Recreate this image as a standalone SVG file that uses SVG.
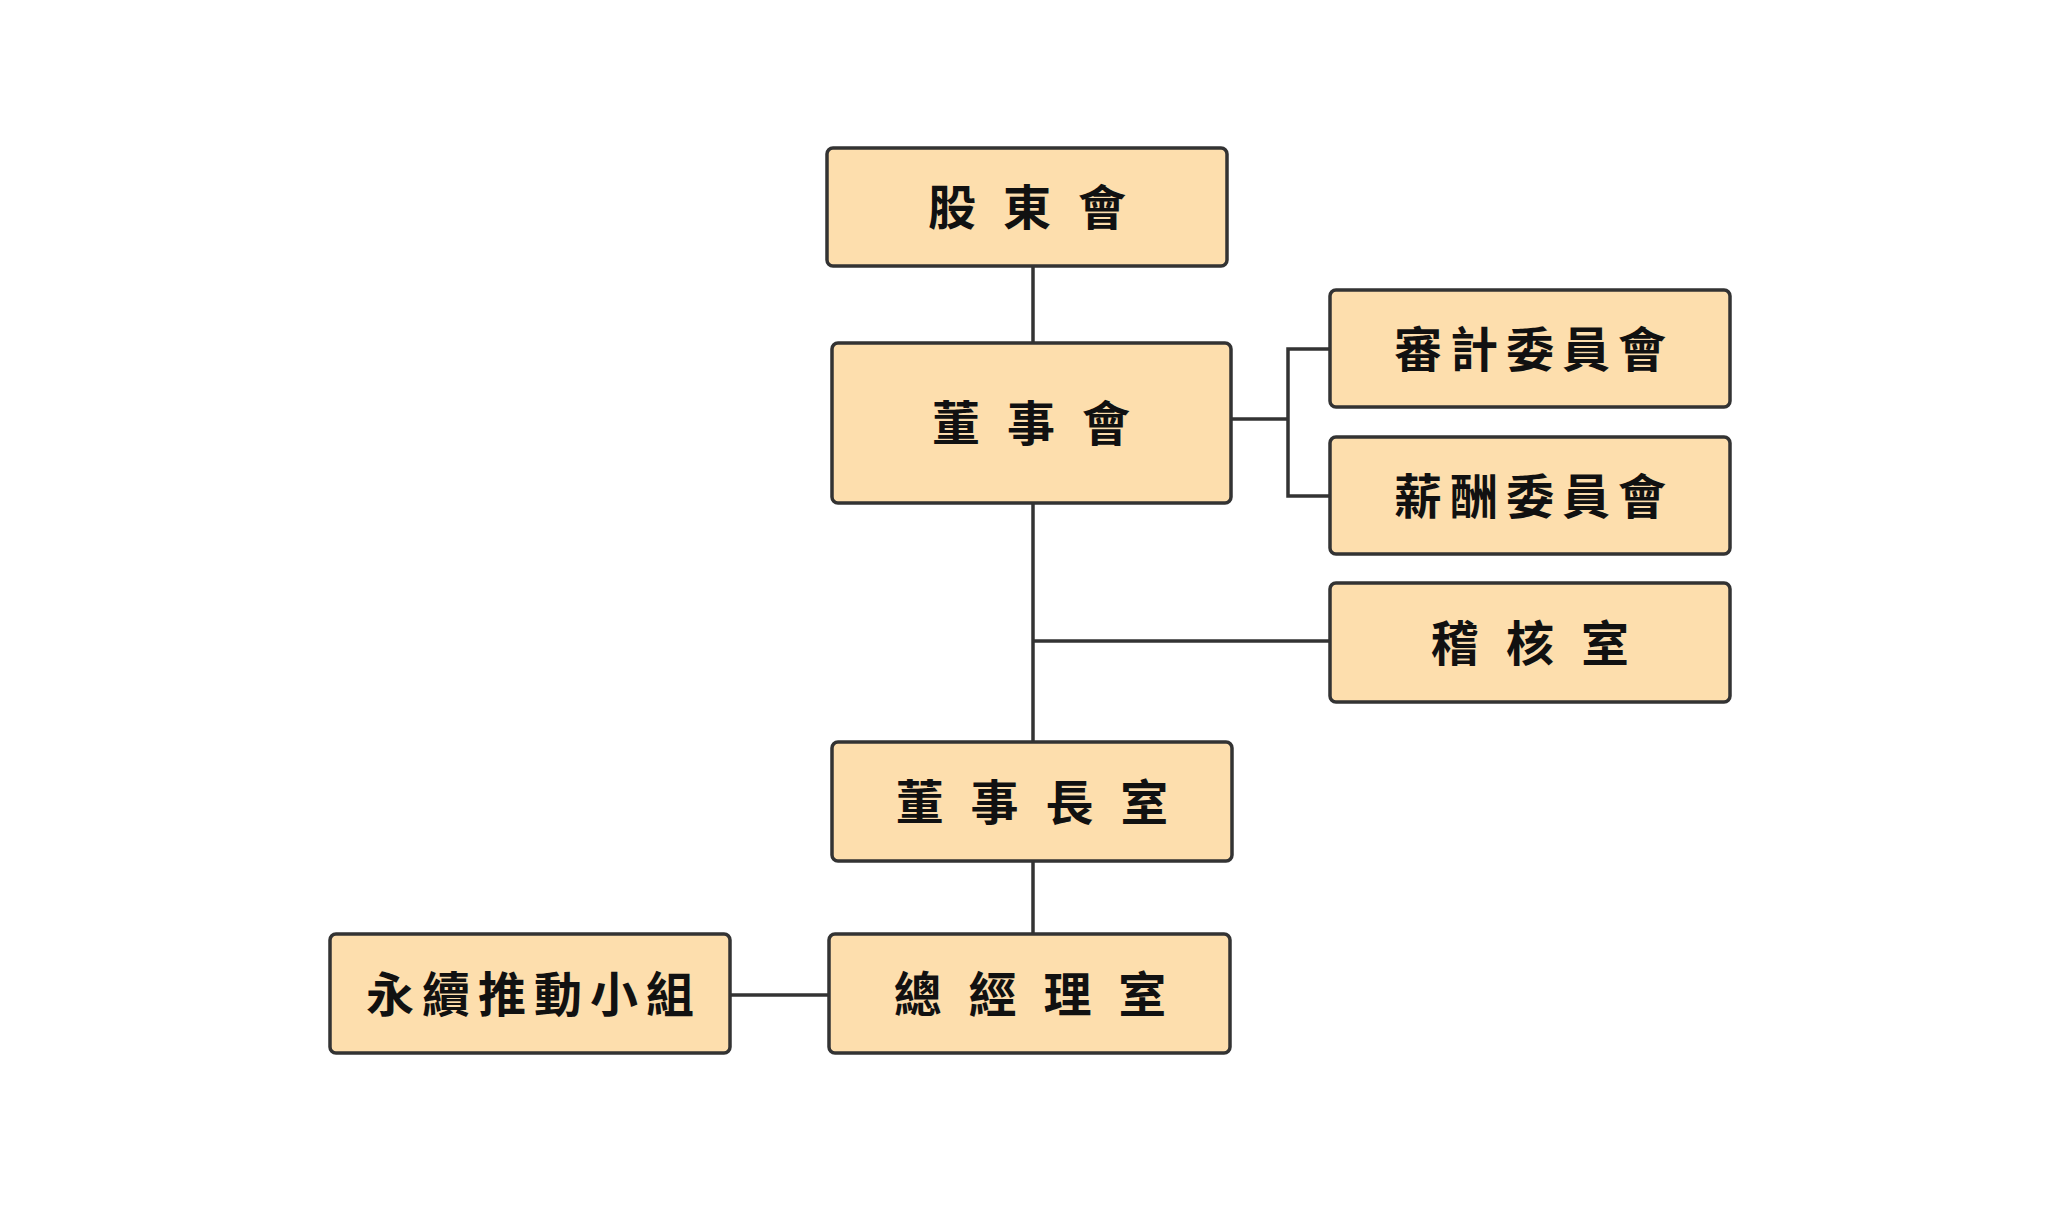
<svg xmlns="http://www.w3.org/2000/svg" width="2060" height="1214" viewBox="0 0 2060 1214">
<style>
.box{fill:#FDDEAD;stroke:#333333;stroke-width:3.5}
.lbl{font-family:"Noto Sans CJK TC","Noto Sans CJK SC",sans-serif;font-weight:700;font-size:48px;fill:#111111;text-anchor:middle;dominant-baseline:central;letter-spacing:8px}
.con{stroke:#333333;stroke-width:3.5;fill:none}
</style>
<rect width="2060" height="1214" fill="#ffffff"/>
<g id="connectors">
<line class="con" x1="1033" y1="266" x2="1033" y2="343"/>
<line class="con" x1="1033" y1="503" x2="1033" y2="742"/>
<line class="con" x1="1033" y1="641" x2="1330" y2="641"/>
<line class="con" x1="1231" y1="419" x2="1288" y2="419"/>
<polyline class="con" points="1330,349 1288,349 1288,496 1330,496"/>
<line class="con" x1="1033" y1="861" x2="1033" y2="934"/>
<line class="con" x1="731" y1="995" x2="829" y2="995"/>
</g>
<g id="n-gudonghui">
<rect class="box" x="827" y="148" width="400" height="118" rx="6"/>
<text class="lbl" x="1031" y="204">股 東 會</text>
</g>
<g id="n-dongshihui">
<rect class="box" x="832" y="343" width="399" height="160" rx="6"/>
<text class="lbl" x="1035" y="420">董 事 會</text>
</g>
<g id="n-shenji">
<rect class="box" x="1330" y="290" width="400" height="117" rx="6"/>
<text class="lbl" x="1534" y="346">審計委員會</text>
</g>
<g id="n-xinchou">
<rect class="box" x="1330" y="437" width="400" height="117" rx="6"/>
<text class="lbl" x="1534" y="493">薪酬委員會</text>
</g>
<g id="n-jihe">
<rect class="box" x="1330" y="583" width="400" height="119" rx="6"/>
<text class="lbl" x="1534" y="640">稽 核 室</text>
</g>
<g id="n-dongshizhang">
<rect class="box" x="832" y="742" width="400" height="119" rx="6"/>
<text class="lbl" x="1036" y="799">董 事 長 室</text>
</g>
<g id="n-zongjingli">
<rect class="box" x="829" y="934" width="401" height="119" rx="6"/>
<text class="lbl" x="1034" y="991">總 經 理 室</text>
</g>
<g id="n-yongxu">
<rect class="box" x="330" y="934" width="400" height="119" rx="6"/>
<text class="lbl" x="534" y="991">永續推動小組</text>
</g>
</svg>
